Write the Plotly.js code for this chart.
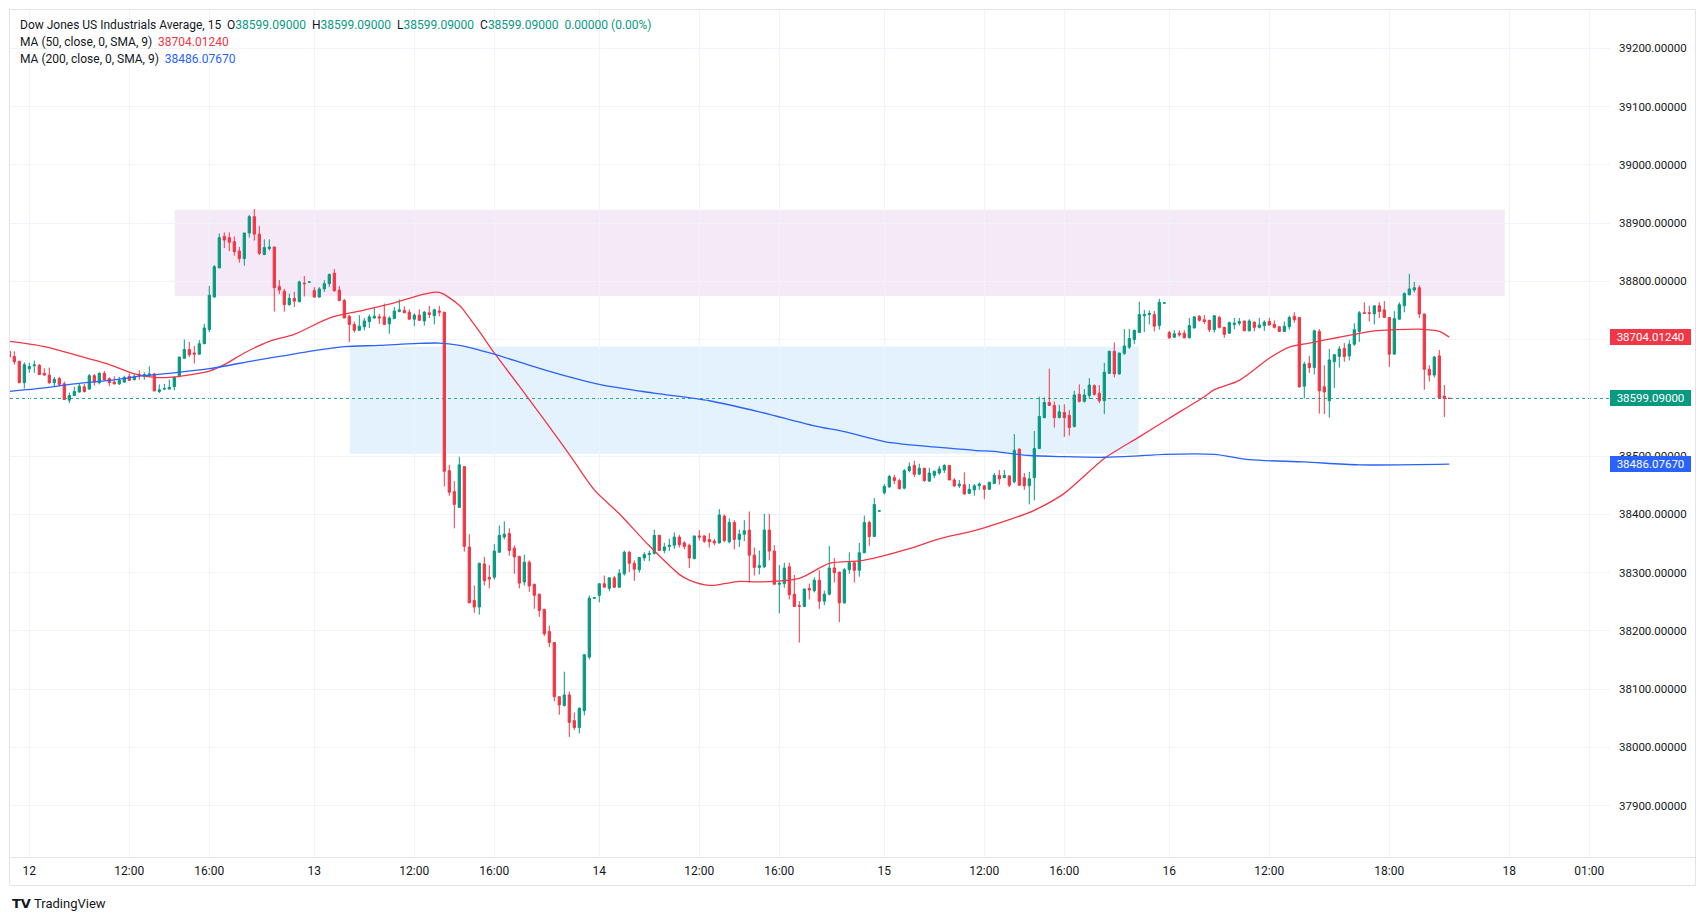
<!DOCTYPE html>
<html>
<head>
<meta charset="utf-8">
<script src="https://cdn.plot.ly/plotly-3.0.1.min.js"></script>
<style>
html,body{margin:0;padding:0;background:#ffffff;}
#chart{width:1706px;height:921px;}
</style>
</head>
<body>
<div id="chart"></div>
<script>
// ---------- DATA ----------
const symbolName = "Dow Jones US Industrials Average, 15";
const firstBar = -4; // bar index of the first candle (index 0 = first bar of day 12)

const openPrices = [
38680,38671,38663,38626,
38650,38655,38656,38642,38639,38626,38633,38624,38596,38604,
38610,38619,38615,38638,38626,38642,38633,38627,38624,38627,
38637,38631,38640,38637,38639,38641,38611,38615,38615,38619,
38638,38668,38683,38677,38675,38693,38717,38773,38823,38877,
38875,38868,38852,38839,38883,38911,38881,38846,38856,38859,
38791,38783,38760,38771,38765,38797,38798.5,38784,38773,38787,
38796,38814,38785,38767,38740,38726,38716,38722,38731,38737,
38739,38739,38727,38736,38748,38750,38747,38735,38742,38732,
38746,38741,38749,38747,38475,38439,38412,38482,38344,38252,
38241,38315,38292,38292,38335,38361,38367,38342,38328,38284,
38318,38280,38263,38237,38199,38180,38087,38072,38090,38046,
38034,38063,38155,38256,38261,38281,38273,38291,38275,38298,
38335,38316,38305,38325,38331,38333,38364,38338,38345,38347,
38361,38351,38347,38324,38363,38363,38357,38354,38351,38397,
38353,38386,38357,38366,38373,38330,38309,38310,38373,38337,
38280,38281,38310,38263,38243.4,38242,38273,38269,38287,38251,
38263,38308,38301,38248,38305,38317,38304,38334,38386,38362,
38405.5,38437,38447,38463,38458,38445,38475,38484,38469,38479,
38457,38467,38471,38476,38484,38459,38449,38451,38436,38442,
38449,38449,38443,38453,38467,38463,38466,38456,38512,38463,
38449,38463,38513,38566,38592,38587,38566,38575,38570,38551,
38606,38594,38604,38621,38608,38595,38642,38680,38641,38676,
38687,38700,38712,38741,38743,38743,38724,38762.5,38712,38704,
38711,38711,38703,38720,38740,38734,38733,38717,38738,38721,
38711,38726,38728,38732,38715,38730,38721,38724,38731,38726,
38722,38714,38722,38740,38738,38620,38659,38652,38714,38619,
38595,38662,38671,38685,38672,38692,38714,38746,38746,38744,
38758,38751,38738,38675,38735,38758,38777,38785,38789,38744,
38649,38639,38672,38603,38599.09
];
const highPrices = [
38682,38680,38663,38661,
38660,38664,38658,38651,38652,38636,38636,38628,38609,38619,
38624,38624,38641,38641,38644,38646,38635,38637,38636,38638,
38642,38640,38647,38644,38654,38643,38623,38624,38631,38637,
38670,38700,38696,38689,38699,38727,38792,38828,38882,38884,
38884,38877,38859,38883,38914,38924,38895,38872,38872,38859,
38802,38787,38779,38782,38801,38809,38799.5,38790,38790,38802,
38813,38821,38792,38770,38742,38731,38742,38737,38743,38754,
38744,38762,38740,38756,38769,38757,38752,38745,38752,38749,
38758,38753,38758,38747,38485,38457,38499,38482,38366,38278,
38317,38327,38313,38349,38381,38388,38376,38347,38328,38331,
38321,38281,38264,38237,38209,38180,38087,38130,38096,38060,
38069,38160,38261,38257.5,38281,38295,38292,38294,38306,38338,
38337,38321,38327,38335,38338,38374,38365,38351,38358,38369,
38365,38354,38350,38363,38373,38364,38368,38358,38409,38400,
38393,38390,38374,38390,38405,38343,38338,38401,38401,38347,
38313,38317,38317,38296,38251,38272,38281,38292,38304,38269,
38346,38325,38301,38308,38335,38320,38351,38398,38389,38428,
38406.3,38452,38468,38468,38461,38478,38489,38492,38487,38480,
38480,38475,38483,38486,38484,38462,38459,38472,38452,38452,
38455,38450,38456,38471,38476,38476,38467,38538,38513,38471,
38473,38543,38602,38601,38650,38594,38588,38589,38579,38612,
38623,38615,38634,38623,38622,38660,38680,38695,38677,38718,
38718,38717,38765,38751,38750,38749,38770,38763.3,38715,38716,
38716,38716,38737,38740,38742,38742,38734,38741,38741,38722,
38731,38737,38737,38732,38735,38731,38737,38733,38737,38733,
38723,38731,38741,38747,38738,38662,38672,38717,38718,38656,
38684,38675,38689,38694,38699,38728,38749,38764,38758,38758,
38764,38766,38738,38749,38764,38781,38813,38799,38793,38744,
38656,38672,38682,38622,38599.09
];
const lowPrices = [
38668,38657,38625,38616,
38643,38643,38640,38638.7,38624,38620,38620,38597,38591,38603,
38609,38609,38614,38621,38623,38630,38620,38623,38622,38626,
38630,38630,38631,38631,38637,38611,38608,38613,38615,38613,
38635,38667,38670,38659,38674,38692,38713,38772,38823,38857,
38852,38844,38832,38827,38875,38870,38845,38845,38853,38748,
38778,38748,38758,38756,38764,38774,38798.5,38772,38772,38782,
38790,38782,38766,38737,38696,38712,38715,38716,38720,38736,
38727,38725,38710,38735,38747,38746,38734,38723,38732,38724,
38737,38726,38740,38448,38432,38376,38412,38336,38248,38231,
38228,38278,38273,38288,38334,38357,38329,38298,38273,38278,
38267,38238,38224,38191,38172,38079,38056,38070,38018,38030,
38024,38055,38151,38256,38249,38275,38268,38274,38274,38295,
38301,38286,38300,38320,38320,38331,38337,38333,38337,38341,
38343,38340,38308,38323,38355,38351,38343,38347,38350,38352,
38350,38340,38344,38354,38283,38295,38297,38308,38321,38280,
38230,38274,38254,38242,38180,38241,38254,38266,38238,38244,
38261,38283,38215,38247,38298,38283,38293,38334,38346,38362,
38405.5,38434,38446,38452,38443,38443,38472,38464,38468,38456,
38456,38462,38468,38471,38459,38447,38445,38434,38435,38432,
38442,38426,38442,38452,38451,38462,38447,38453,38449,38442,
38417,38424,38512,38565,38586,38549,38565,38533,38535,38549,
38592,38592,38598,38604,38591,38572,38641,38635,38640,38674,
38684,38692,38712,38713,38726,38714,38717,38762.5,38701,38704,
38705,38702,38702,38719,38731,38727,38713,38712,38719,38703,
38710,38718,38724,38715,38714,38714,38719,38715,38724,38719,
38714,38713,38717,38729,38617,38599,38643,38640,38573,38572,
38566,38617,38652,38662,38664,38689,38696,38745,38731,38726,
38737,38737,38653,38675,38735,38747,38776,38781,38737,38614,
38628,38635,38600,38567,38599.09
];
const closePrices = [
38670,38662,38626,38657,
38654,38656.5,38640,38639,38626,38632,38623,38597,38604,38611,
38620,38611,38638,38627,38642,38631,38626,38624,38630,38635,
38630,38637,38638,38640,38641,38612,38614,38616,38618,38635,
38670,38683,38674,38675,38693,38720,38776,38825,38875,38871,
38867,38851,38839,38883,38911,38881,38848,38858,38859,38789,
38785,38760,38771,38766,38799,38796,38799,38773,38787,38796,
38812,38784,38767,38737,38726,38716,38723,38732,38739,38740,
38737,38726,38737,38749,38751,38746,38735,38742,38733,38747,
38743,38751,38747,38474,38438,38417,38485,38345,38248,38241,
38316,38286,38289,38337,38364,38366,38338,38327,38282,38318,
38277,38261,38235,38195,38180,38087,38073,38090,38043,38034,
38067,38159,38256,38257,38281,38275,38291,38275,38299,38335,
38316,38306,38326,38331,38333,38364,38338,38344,38347,38361,
38348,38345,38325,38363,38361,38354,38353,38351,38399,38355,
38386,38357,38366,38372,38330,38309,38312,38373,38337,38280,
38282,38308,38262,38242,38242.3,38272,38270,38287,38251,38263,
38308,38300,38248,38305,38317,38304,38334,38386,38362,38417,
38406,38448,38465,38458,38444,38475,38482,38469,38479,38458,
38471,38474,38478,38484,38459,38449,38452,38435,38443,38449,
38452,38443,38455,38467,38461,38467,38450,38510,38450,38449,
38461,38513,38568,38592,38587,38566,38576,38566,38549,38605,
38594,38605,38622,38606,38595,38644,38680,38641,38677,38689,
38702,38716,38743,38743,38745,38723,38764,38763,38703,38710,
38708,38703,38724,38739,38733,38731,38717,38741,38721,38709,
38729,38728,38731,38715,38732,38721,38725,38730,38725,38721,
38714,38723,38738,38734,38619,38658,38652,38715,38612,38610,
38665,38674,38684,38671,38692,38717,38746,38745,38745,38758,
38748,38738,38675,38736,38760,38779,38787,38789,38744,38649,
38639,38670,38600,38599.09,38599.09
];

// Moving averages (bar index -> value)
const ma50Idx = [-4,3,9,16,21,25,28,31,36,39,43,48,53,60,66,73,79,82,86,87,90,93,98,103,108,113,118,124,130,132,136,139,142,146,154,160,166,170,176,182,189,196,201,207,215,222,228,235,237,242,248,252,256,262,269,273,278,282,284];
const ma50Val = [38697,38688,38674,38657,38641,38635,38635,38638,38646,38657,38677,38697,38709,38737,38749,38763,38778,38781,38759,38749,38714,38677,38620,38562,38503,38442,38401,38346,38297,38287,38278,38281,38285,38284,38290,38316,38320,38327,38341,38358,38372,38391,38407,38436,38496,38533,38565,38602,38614,38630,38668,38687,38694,38704,38715,38717,38718,38714,38704.0124];
const ma200Idx = [-4,3,9,16,23,29,36,45,50,57,63,70,77,82,86,90,93,103,114,125,136,146,157,163,171,179,189,194,200,207,215,221,227,237,244,255,266,284];
const ma200Val = [38611,38617,38624,38630,38638,38643,38650,38664,38671,38681,38688,38690,38693,38694,38690,38682,38675,38648,38623,38608,38595,38576,38552,38542,38525,38517,38510,38507,38501,38499,38498,38500,38503,38503,38494,38490,38485,38486.0767];

// Drawn zones (bar index range, price range)
const supplyZoneBars = [29.1, 295.1];
const supplyZonePrices = [38775, 38923];
const demandZoneBars = [64.1, 221.9];
const demandZonePrices = [38504, 38688];

// Time axis labels
const timeTickIdx = [0,20,36,57,77,93,114,134,150,171,191,207,228,248,272,296,312];
const timeTickText = ['12','12:00','16:00','13','12:00','16:00','14','12:00','16:00','15','12:00','16:00','16','12:00','18:00','18','01:00'];

// ---------- BUILD ----------
const barIdx = openPrices.map((_, k) => firstBar + k);
const n = closePrices.length;
const lastO = openPrices[n-1], lastH = highPrices[n-1], lastL = lowPrices[n-1], lastC = closePrices[n-1];
const chg = lastC - closePrices[n-2];
const chgPct = chg / closePrices[n-2] * 100;
const ma50Last = ma50Val[ma50Val.length-1];
const ma200Last = ma200Val[ma200Val.length-1];

const GREEN = '#089981', RED = '#f23645', BLUE = '#2962ff', TXT = '#131722';
const FONT = 'Roboto, "Open Sans", sans-serif';

// plot area in pixels: x 10..1610, y 10..857
const W = 1706, H = 921, L = 10, R = 1610, T = 10, B = 857;
const px2paperX = p => (p - L) / (R - L);
const px2paperY = p => (B - p) / (B - T);

const candles = {
  type: 'candlestick',
  x: barIdx, open: openPrices, high: highPrices, low: lowPrices, close: closePrices,
  increasing: {line: {color: GREEN, width: 1}, fillcolor: GREEN},
  decreasing: {line: {color: RED, width: 1}, fillcolor: RED},
  whiskerwidth: 0,
  hoverinfo: 'skip', showlegend: false
};
const ma50Trace = {
  type: 'scatter', mode: 'lines', x: ma50Idx, y: ma50Val,
  line: {color: RED, width: 1.3, shape: 'spline', smoothing: 0.8},
  hoverinfo: 'skip', showlegend: false
};
const ma200Trace = {
  type: 'scatter', mode: 'lines', x: ma200Idx, y: ma200Val,
  line: {color: BLUE, width: 1.3, shape: 'spline', smoothing: 0.8},
  hoverinfo: 'skip', showlegend: false
};

const g = s => `<span style="color:${GREEN}">${s}</span>`;
const header1 = `${symbolName}\u00a0\u00a0O${g(lastO.toFixed(5))}\u00a0\u00a0H${g(lastH.toFixed(5))}\u00a0\u00a0L${g(lastL.toFixed(5))}\u00a0\u00a0C${g(lastC.toFixed(5))}\u00a0\u00a0${g(chg.toFixed(5) + ' (' + chgPct.toFixed(2) + '%)')}`;
const header2 = `MA (50, close, 0, SMA, 9)\u00a0\u00a0<span style="color:${RED}">${ma50Last.toFixed(5)}</span>`;
const header3 = `MA (200, close, 0, SMA, 9)\u00a0\u00a0<span style="color:${BLUE}">${ma200Last.toFixed(5)}</span>`;

function headerAnn(text, py) {
  return {xref: 'paper', yref: 'paper', x: px2paperX(18.3), y: px2paperY(py),
    xanchor: 'left', yanchor: 'middle', showarrow: false, text: text,
    font: {family: FONT, size: 12, color: TXT}};
}
function priceBox(val, color) {
  return {xref: 'paper', yref: 'y', x: 1, y: val, xanchor: 'left', yanchor: 'middle',
    showarrow: false, text: val.toFixed(5), bgcolor: color, borderpad: 0, borderwidth: 0,
    width: 81, height: 16, align: 'center',
    font: {family: FONT, size: 11.5, color: '#ffffff'}};
}

const layout = {
  width: W, height: H,
  margin: {l: L, r: W - R, t: T, b: H - B, pad: 0},
  paper_bgcolor: '#ffffff', plot_bgcolor: '#ffffff',
  showlegend: false,
  boxgap: 0.55, boxgroupgap: 0,
  xaxis: {
    range: [(L - 29.3) / 5, (R - 29.3) / 5],
    tickmode: 'array', tickvals: timeTickIdx, ticktext: timeTickText,
    showgrid: true, gridcolor: '#f0f3fa', gridwidth: 1,
    zeroline: false, showline: false, ticks: '',
    ticklabelstandoff: 5,
    tickfont: {family: FONT, size: 12, color: TXT},
    rangeslider: {visible: false}, fixedrange: true
  },
  yaxis: {
    side: 'right',
    range: [37811.9, 39265.7],
    tick0: 0, dtick: 100, tickformat: '.5f',
    showgrid: true, gridcolor: '#f0f3fa', gridwidth: 1,
    zeroline: false, showline: false, ticks: '',
    ticklabelstandoff: 8,
    tickfont: {family: FONT, size: 11.5, color: TXT},
    fixedrange: true
  },
  shapes: [
    {type: 'rect', xref: 'x', yref: 'y', x0: supplyZoneBars[0], x1: supplyZoneBars[1],
     y0: supplyZonePrices[0], y1: supplyZonePrices[1],
     fillcolor: 'rgba(206,147,216,0.2)', line: {width: 0}, layer: 'below'},
    {type: 'rect', xref: 'x', yref: 'y', x0: demandZoneBars[0], x1: demandZoneBars[1],
     y0: demandZonePrices[0], y1: demandZonePrices[1],
     fillcolor: 'rgba(33,150,243,0.12)', line: {width: 0}, layer: 'below'},
    {type: 'line', xref: 'paper', yref: 'y', x0: 0, x1: 1, y0: lastC, y1: lastC,
     line: {color: GREEN, width: 1, dash: 'dot'}, layer: 'below'},
    // frame
    {type: 'rect', xref: 'paper', yref: 'paper',
     x0: px2paperX(9.5), x1: px2paperX(1695.5), y0: px2paperY(885.5), y1: px2paperY(9.5),
     line: {color: '#e0e3eb', width: 1}, fillcolor: 'rgba(0,0,0,0)', layer: 'above'},
    // time axis separator
    {type: 'line', xref: 'paper', yref: 'paper',
     x0: px2paperX(9.5), x1: px2paperX(1695.5), y0: px2paperY(857.5), y1: px2paperY(857.5),
     line: {color: '#e0e3eb', width: 1}, layer: 'above'}
  ],
  annotations: [
    headerAnn(header1, 25),
    headerAnn(header2, 41.7),
    headerAnn(header3, 59),
    priceBox(ma50Last, RED),
    priceBox(lastC, GREEN),
    priceBox(ma200Last, BLUE),
    {xref: 'paper', yref: 'paper', x: px2paperX(10), y: px2paperY(903), xanchor: 'left', yanchor: 'middle',
     showarrow: false, text: '<b>TV</b>', font: {family: '"DejaVu Sans", sans-serif', size: 13, color: TXT}},
    {xref: 'paper', yref: 'paper', x: px2paperX(32), y: px2paperY(903), xanchor: 'left', yanchor: 'middle',
     showarrow: false, text: 'TradingView', font: {family: FONT, size: 13, color: TXT}}
  ]
};

Plotly.newPlot('chart', [candles, ma50Trace, ma200Trace], layout, {displayModeBar: false, staticPlot: true});
</script>
</body>
</html>
